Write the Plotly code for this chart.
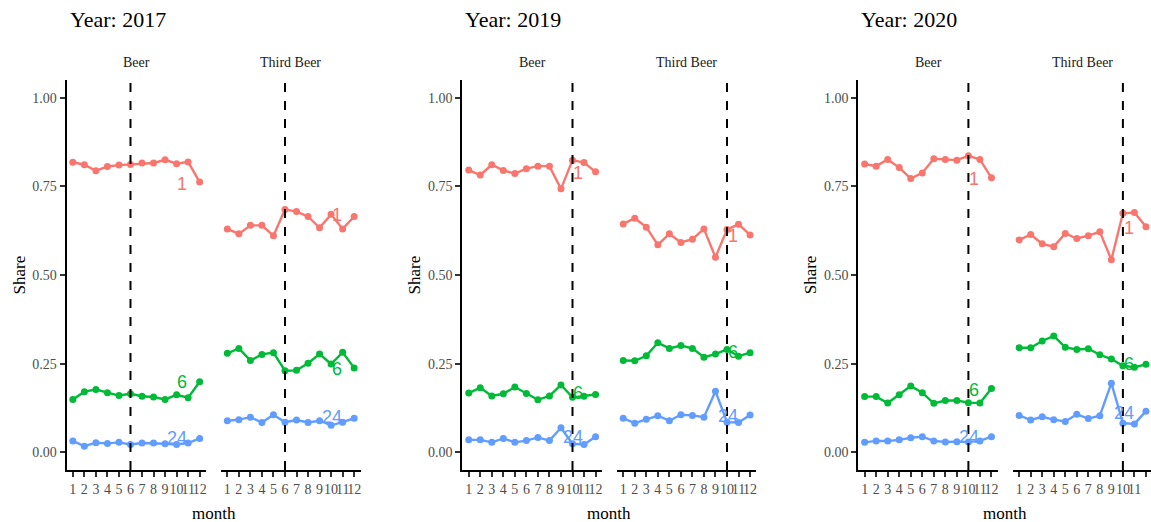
import plotly.graph_objects as go

months = list(range(1, 13))
years = ["2017", "2019", "2020"]
categories = ["Beer", "Third Beer"]
sizes = ["1", "6", "24"]
policy_month = {"2017": 6, "2019": 10, "2020": 10}

# Share by year / category / package size
beer_2017_1 = [0.818, 0.811, 0.794, 0.806, 0.810, 0.812, 0.816, 0.816, 0.825, 0.814, 0.819, 0.762]
beer_2017_6 = [0.149, 0.171, 0.177, 0.168, 0.160, 0.165, 0.158, 0.156, 0.149, 0.162, 0.154, 0.199]
beer_2017_24 = [0.032, 0.017, 0.027, 0.025, 0.028, 0.022, 0.026, 0.026, 0.024, 0.022, 0.026, 0.039]
third_2017_1 = [0.630, 0.616, 0.640, 0.640, 0.611, 0.685, 0.679, 0.665, 0.633, 0.671, 0.630, 0.665]
third_2017_6 = [0.279, 0.293, 0.259, 0.276, 0.281, 0.230, 0.231, 0.251, 0.277, 0.249, 0.282, 0.238]
third_2017_24 = [0.089, 0.092, 0.099, 0.084, 0.106, 0.085, 0.091, 0.084, 0.089, 0.076, 0.085, 0.096]

beer_2019_1 = [0.796, 0.782, 0.811, 0.795, 0.786, 0.800, 0.807, 0.807, 0.743, 0.824, 0.817, 0.791]
beer_2019_6 = [0.167, 0.182, 0.159, 0.165, 0.184, 0.166, 0.148, 0.159, 0.190, 0.155, 0.158, 0.163]
beer_2019_24 = [0.035, 0.035, 0.028, 0.039, 0.028, 0.033, 0.042, 0.033, 0.069, 0.024, 0.022, 0.044]
third_2019_1 = [0.644, 0.660, 0.635, 0.585, 0.616, 0.592, 0.601, 0.630, 0.550, 0.628, 0.643, 0.613]
third_2019_6 = [0.259, 0.258, 0.272, 0.309, 0.293, 0.301, 0.293, 0.268, 0.277, 0.290, 0.271, 0.281]
third_2019_24 = [0.096, 0.082, 0.093, 0.103, 0.089, 0.106, 0.104, 0.099, 0.172, 0.085, 0.084, 0.105]

beer_2020_1 = [0.813, 0.807, 0.826, 0.803, 0.772, 0.788, 0.828, 0.826, 0.824, 0.836, 0.826, 0.774]
beer_2020_6 = [0.157, 0.157, 0.139, 0.162, 0.187, 0.168, 0.138, 0.146, 0.146, 0.140, 0.139, 0.180]
beer_2020_24 = [0.028, 0.032, 0.032, 0.035, 0.041, 0.044, 0.032, 0.029, 0.030, 0.029, 0.032, 0.044]
third_2020_1 = [0.599, 0.614, 0.588, 0.580, 0.617, 0.603, 0.611, 0.622, 0.543, 0.674, 0.676, 0.636]
third_2020_6 = [0.295, 0.295, 0.314, 0.328, 0.296, 0.290, 0.292, 0.275, 0.263, 0.244, 0.240, 0.248]
third_2020_24 = [0.104, 0.091, 0.100, 0.092, 0.087, 0.107, 0.095, 0.103, 0.195, 0.082, 0.080, 0.116]

# Direct-label heights (share units) per year / category / size
label_2017 = {"Beer": [0.758, 0.197, 0.041], "Third Beer": [0.669, 0.235, 0.099]}
label_2019 = {"Beer": [0.789, 0.166, 0.042], "Third Beer": [0.611, 0.282, 0.103]}
label_2020 = {"Beer": [0.771, 0.176, 0.044], "Third Beer": [0.633, 0.249, 0.110]}
label_month = 11.1

data = {
    "2017": {"Beer": [beer_2017_1, beer_2017_6, beer_2017_24],
             "Third Beer": [third_2017_1, third_2017_6, third_2017_24]},
    "2019": {"Beer": [beer_2019_1, beer_2019_6, beer_2019_24],
             "Third Beer": [third_2019_1, third_2019_6, third_2019_24]},
    "2020": {"Beer": [beer_2020_1, beer_2020_6, beer_2020_24],
             "Third Beer": [third_2020_1, third_2020_6, third_2020_24]},
}
labels = {"2017": label_2017, "2019": label_2019, "2020": label_2020}

colors = ["#F8766D", "#00BA38", "#619CFF"]

FW, FH = 1151, 522
SERIF = "Liberation Serif"
SANS = "Liberation Sans"


def fx(p):
    return p / FW


def fy(p):
    return 1 - p / FH


panel_top, panel_bot = 80, 470
ydom = [fy(panel_bot), fy(panel_top)]
xr = [0.45, 12.55]
yr = [-0.05, 1.05]
facet_w = 139.5
px_per_month = facet_w / (xr[1] - xr[0])

fig = go.Figure()
layout = dict(width=FW, height=FH, margin=dict(l=0, r=0, t=0, b=0),
              plot_bgcolor="white", paper_bgcolor="white", showlegend=False,
              font=dict(family=SERIF, color="black"))
annotations = []
shapes = []

idx = 0
for k, yr_name in enumerate(years):
    ox = 66.5 + k * 395.9
    for c, cat in enumerate(categories):
        idx += 1
        x0 = ox + c * 154.5
        x1 = x0 + facet_w
        rng = list(xr)
        if x1 > FW:
            rng[1] = xr[0] + (FW - x0) / px_per_month
            x1 = FW
        xa = "xaxis" if idx == 1 else f"xaxis{idx}"
        ya = "yaxis" if idx == 1 else f"yaxis{idx}"
        xref = "x" if idx == 1 else f"x{idx}"
        yref = "y" if idx == 1 else f"y{idx}"
        layout[xa] = dict(domain=[fx(x0), fx(x1)], range=rng, anchor=yref,
                          tickvals=months, ticktext=[str(m) for m in months], tickangle=0,
                          showline=True, linecolor="black", linewidth=2,
                          ticks="outside", ticklen=5, tickwidth=2, tickcolor="#333333",
                          tickfont=dict(family=SERIF, size=14, color="#4D4D4D"),
                          showgrid=False, zeroline=False, fixedrange=True,
                          automargin=False)
        first = (c == 0)
        layout[ya] = dict(domain=ydom, range=yr, anchor=xref,
                          tickvals=[0, 0.25, 0.5, 0.75, 1.0],
                          ticktext=["0.00", "0.25", "0.50", "0.75", "1.00"],
                          showline=first, linecolor="black", linewidth=2,
                          ticks="outside" if first else "", ticklen=5, tickwidth=2,
                          tickcolor="#333333", showticklabels=first,
                          tickfont=dict(family=SERIF, size=14, color="#4D4D4D"),
                          showgrid=False, zeroline=False, fixedrange=True,
                          automargin=False)
        for s, size in enumerate(sizes):
            fig.add_trace(go.Scatter(x=months, y=data[yr_name][cat][s], mode="lines+markers",
                                     line=dict(color=colors[s], width=2.4),
                                     marker=dict(color=colors[s], size=7),
                                     cliponaxis=False,
                                     xaxis=xref, yaxis=yref, name=size, hoverinfo="skip"))
            annotations.append(dict(x=label_month, y=labels[yr_name][cat][s], xref=xref, yref=yref,
                                    text=size, showarrow=False, xanchor="right", yanchor="middle",
                                    font=dict(family=SANS, size=18, color=colors[s])))
        shapes.append(dict(type="line", xref=xref, yref=f"{yref} domain",
                           x0=policy_month[yr_name], x1=policy_month[yr_name], y0=0, y1=1,
                           line=dict(color="black", width=2, dash="9px,9px"), layer="above"))
        annotations.append(dict(x=fx(x0 + facet_w / 2), y=fy(62), xref="paper", yref="paper",
                                text=cat, showarrow=False, xanchor="center", yanchor="middle",
                                font=dict(family=SERIF, size=14, color="#1A1A1A")))
    # year title
    annotations.append(dict(x=fx(ox + 1), y=fy(20), xref="paper", yref="paper",
                            text=f"Year: {yr_name}", showarrow=False, xanchor="left", yanchor="middle",
                            font=dict(family=SERIF, size=22, color="black")))
    # y title
    annotations.append(dict(x=fx(ox - 48), y=fy(275), xref="paper", yref="paper",
                            text="Share", showarrow=False, textangle=-90,
                            xanchor="center", yanchor="middle",
                            font=dict(family=SERIF, size=17, color="black")))
    # x title
    annotations.append(dict(x=fx(ox + 147), y=fy(513), xref="paper", yref="paper",
                            text="month", showarrow=False, xanchor="center", yanchor="middle",
                            font=dict(family=SERIF, size=17, color="black")))

layout["annotations"] = annotations
layout["shapes"] = shapes
fig.update_layout(**layout)
fig.write_html("out.html", config={"displayModeBar": False, "staticPlot": True},
               post_script="document.body.style.margin='0';document.body.style.overflow='hidden';")
